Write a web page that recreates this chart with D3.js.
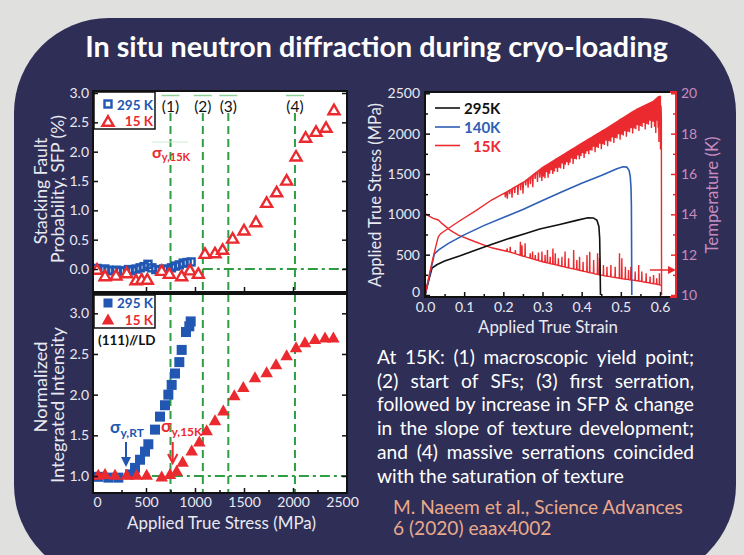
<!DOCTYPE html>
<html><head><meta charset="utf-8">
<script src="https://cdn.jsdelivr.net/npm/d3@7"></script>
<style>
body{margin:0;background:#e0e1df;}
svg{display:block;}
text{font-family:Lato,'Open Sans',sans-serif;}
</style></head><body>
<svg id="c" width="744" height="555"></svg>
<script>
// ---------------- DATA ----------------
const stressTicks = [0,500,1000,1500,2000,2500];
const sfpTicks = [0,0.5,1,1.5,2,2.5,3];
const intTicks = [1,1.5,2,2.5,3];
const strainTicks = [0,0.1,0.2,0.3,0.4,0.5,0.6];
const tempTicks = [10,12,14,16,18,20];

// SFP (%) vs applied true stress (MPa)
const sfp295Stress = [0,40,80,120,160,200,240,280,320,360,400,440,480,520,560,600,640,680,720,760,800,840,880,920,960];
const sfp295 = [0.01,-0.01,0.0,-0.02,-0.03,-0.02,-0.04,-0.03,-0.01,-0.03,0.0,0.02,0.04,0.08,0.02,-0.01,-0.02,0.0,-0.01,0.02,0.05,0.07,0.1,0.11,0.12];
const sfp15Stress = [0,82,194,303,398,456,513,660,738,864,949,1034,1102,1204,1282,1384,1500,1622,1731,1833,1935,2031,2129,2235,2337,2418];
const sfp15 = [0.0,-0.11,-0.10,-0.06,-0.18,-0.17,-0.17,-0.02,-0.07,-0.11,-0.01,-0.07,0.27,0.28,0.34,0.53,0.67,0.81,1.14,1.32,1.52,1.93,2.25,2.35,2.42,2.72];

// Normalized integrated intensity (111)//LD
const int295Stress = [13,116,218,337,388,439,490,524,592,643,694,728,762,796,840,864,908,942,956];
const int295 = [0.99,0.98,0.98,1.02,1.10,1.20,1.30,1.39,1.57,1.73,1.87,2.0,2.12,2.26,2.4,2.55,2.77,2.84,2.9];
const int15Stress = [13,82,184,303,405,507,660,745,813,874,966,1044,1119,1204,1289,1401,1493,1612,1731,1827,1935,2031,2122,2224,2327,2412];
const int15 = [1.02,1.03,1.02,1.02,1.02,1.02,1.0,1.03,1.07,1.18,1.32,1.43,1.57,1.69,1.81,2.0,2.1,2.22,2.28,2.38,2.49,2.59,2.65,2.69,2.71,2.71];

const eventStress = [750,1080,1340,2020];
const eventLabels = ['(1)','(2)','(3)','(4)'];

// Stress-strain curves [strain, MPa]
const curve295 = [[0,0],[0.01,190],[0.018,335],[0.03,375],[0.05,420],[0.088,483],[0.13,558],[0.173,632],[0.216,702],[0.259,765],[0.293,818],[0.344,875],[0.387,925],[0.416,958],[0.43,955],[0.439,925],[0.444,850],[0.446,700],[0.447,400],[0.448,0]];
const curve140 = [[0,0],[0.012,250],[0.024,510],[0.035,560],[0.06,640],[0.1,745],[0.15,860],[0.2,960],[0.25,1060],[0.293,1156],[0.35,1280],[0.4,1385],[0.45,1480],[0.49,1565],[0.505,1590],[0.515,1585],[0.521,1545],[0.524,1470],[0.526,1330],[0.527,1100],[0.528,0]];
const curve15 = [[0,0],[0.01,230],[0.02,450],[0.03,650],[0.034,722],[0.04,760],[0.047,784],[0.085,908],[0.13,1045],[0.17,1177],[0.213,1290],[0.255,1410],[0.3,1580],[0.35,1730],[0.4,1880],[0.4635,2066],[0.5,2180],[0.54,2300],[0.583,2400],[0.596,2457],[0.601,2460],[0.603,2300]];
const fracture15 = [[0.6035,2200],[0.604,0]];
// serration drops [strain, drop MPa]
const drops15 = [[0.204,60],[0.209,90],[0.215,50],[0.221,110],[0.228,70],[0.236,120],[0.243,80],[0.249,140],[0.256,60],[0.262,110],[0.268,90],[0.274,150],[0.28,70],[0.286,130],[0.292,100],[0.297,160],
[0.301,120],[0.305,150],[0.309,90],[0.313,170],[0.317,130],[0.321,100],[0.325,160],[0.329,140],[0.333,110],[0.337,170],[0.341,130],[0.345,150],[0.349,100],[0.353,180],[0.357,140],[0.361,120],[0.365,170],[0.369,150],[0.373,110],[0.377,190],[0.381,140],[0.385,160],[0.389,120],[0.393,180],[0.397,150],[0.401,130],[0.405,200],[0.409,160],[0.413,140],[0.417,190],[0.421,150],[0.425,170],[0.429,130],[0.433,210],[0.437,160],[0.441,180],[0.445,140],[0.449,220],[0.453,170],[0.457,190],[0.461,150],[0.465,230],[0.469,180],[0.473,200],[0.477,160],[0.481,240],[0.485,190],[0.489,210],[0.493,170],[0.497,250],[0.501,200],[0.505,220],[0.509,180],[0.513,260],[0.517,210],[0.521,230],[0.525,190],[0.529,270],[0.533,220],[0.537,240],[0.541,200],[0.545,280],[0.549,230],[0.553,250],[0.557,210],[0.561,300],[0.565,240],[0.569,260],[0.573,220],[0.577,320],[0.581,250],[0.585,330],[0.588,420],[0.591,280],[0.594,380],[0.596,560],[0.598,300],[0.600,640]];
// Temperature baseline [strain, K]
const temp15 = [[0,14.05],[0.013,13.88],[0.021,13.8],[0.034,13.72],[0.043,13.55],[0.064,13.22],[0.085,12.97],[0.128,12.64],[0.17,12.34],[0.213,12.15],[0.255,11.9],[0.3,11.65],[0.35,11.42],[0.4,11.2],[0.445,11.0],[0.5,10.82],[0.55,10.68],[0.6,10.5],[0.603,10.48]];
// temperature spikes [strain, peak K]
const tempSpikes = [[0.209,12.31],[0.217,12.39],[0.23,12.23],[0.243,12.64],[0.247,12.47],[0.255,12.56],[0.268,12.07],[0.274,12.15],[0.281,11.98],[0.289,12.1],[0.298,12.15],[0.306,11.98],[0.312,12.23],[0.319,11.9],[0.326,12.31],[0.332,12.07],[0.34,11.82],[0.349,11.9],[0.357,12.15],[0.366,11.82],[0.379,12.23],[0.387,11.74],[0.394,11.9],[0.403,11.65],[0.413,11.98],[0.42,12.15],[0.43,11.74],[0.44,12.07],[0.445,11.82],[0.455,11.49],[0.464,11.4],[0.474,11.49],[0.485,11.4],[0.496,12.07],[0.502,11.82],[0.511,11.4],[0.519,11.24],[0.525,11.4],[0.536,11.16],[0.545,11.49],[0.553,11.16],[0.564,11.08],[0.574,10.91],[0.583,10.99],[0.591,10.83],[0.598,11.08]];

const paraLines = ['At 15K: (1) macroscopic yield point;','(2) start of SFs; (3) first serration,','followed by increase in SFP & change','in the slope of texture development;','and (4) massive serrations coincided','with the saturation of texture'];
const citeLines = ['M. Naeem et al., Science Advances','6 (2020) eaax4002'];

// ---------------- STYLE ----------------
const NAVY='#2e2e56', LIGHT='#e9e9f1', BLUE='#2157b2', RED='#eb2a2f', GREEN='#2f9d43', PINK='#c98bbf', PEACH='#eaa98b', INK='#111';
const svg=d3.select('#c');
function fit(t,w){const l=t.node().getComputedTextLength();const fs=parseFloat(t.attr('font-size'));t.attr('font-size',fs*w/l);return fs*w/l;}
function tri(w,h){return `M0,${-h/2}L${w/2},${h/2}L${-w/2},${h/2}Z`;}

svg.append('rect').attr('width',744).attr('height',555).attr('fill','#e0e1df');
svg.append('rect').attr('x',14).attr('y',18).attr('width',722).attr('height',562).attr('rx',95).attr('fill',NAVY);

const title=svg.append('text').attr('x',376.5).attr('y',57).attr('text-anchor','middle').attr('font-size',26).attr('font-weight',700).attr('fill','#fff').text('In situ neutron diffraction during cryo-loading');
fit(title,583);

// ---------------- LEFT PANELS ----------------
const LX0=93,LX1=347,T0=91,T1=292,B0=294,B1=493;
const xL=d3.scaleLinear([0,2500],[97,342]);
const yT=d3.scaleLinear([0,3],[269,93]);
const yB=d3.scaleLinear([1,3],[476,313.3]);
const defs=svg.append('defs');
function clip(id,x,y,w,h){defs.append('clipPath').attr('id',id).append('rect').attr('x',x).attr('y',y).attr('width',w).attr('height',h);}
clip('cT',LX0,T0,LX1-LX0,T1-T0);clip('cB',LX0,B0,LX1-LX0,B1-B0);

svg.append('rect').attr('x',LX0).attr('y',T0).attr('width',LX1-LX0).attr('height',T1-T0).attr('fill','#fff');
svg.append('rect').attr('x',LX0).attr('y',B0).attr('width',LX1-LX0).attr('height',B1-B0).attr('fill','#fff');

function styleAxis(g,col,tcol,fs){g.select('.domain').remove();g.selectAll('.tick line').attr('stroke',col).attr('stroke-width',1.5);g.selectAll('.tick text').attr('fill',tcol).attr('font-size',fs).attr('font-family','Lato');}

// top panel green lines
const gT=svg.append('g').attr('clip-path','url(#cT)');
gT.selectAll('line.ev').data(eventStress).join('line').attr('x1',d=>xL(d)).attr('x2',d=>xL(d)).attr('y1',113).attr('y2',T1).attr('stroke',GREEN).attr('stroke-width',2).attr('stroke-dasharray','8,5');
gT.append('line').attr('x1',xL(eventStress[1])).attr('x2',LX1).attr('y1',yT(0)).attr('y2',yT(0)).attr('stroke',GREEN).attr('stroke-width',1.8).attr('stroke-dasharray','10,4,3,4');
gT.selectAll('line.ov').data(eventStress).join('line').attr('x1',d=>xL(d)-9).attr('x2',d=>xL(d)+9).attr('y1',95.5).attr('y2',95.5).attr('stroke','#8fd39a').attr('stroke-width',1.5);
gT.append('line').attr('x1',152).attr('x2',188).attr('y1',142).attr('y2',142).attr('stroke','#cdeed3').attr('stroke-width',1);
gT.selectAll('text.ev').data(eventLabels).join('text').attr('x',(d,i)=>xL(eventStress[i])).attr('y',106).attr('text-anchor','middle').attr('dominant-baseline','central').attr('font-size',15.5).attr('fill',INK).text(d=>d);
// markers
gT.selectAll('rect.m').data(sfp295).join('rect').attr('x',(d,i)=>xL(sfp295Stress[i])-3.5).attr('y',d=>yT(d)-3.5).attr('width',7).attr('height',7).attr('fill','none').attr('stroke',BLUE).attr('stroke-width',2.4);
gT.selectAll('path.m').data(sfp15).join('path').attr('d',tri(11,9.5)).attr('transform',(d,i)=>`translate(${xL(sfp15Stress[i])},${yT(d)})`).attr('fill','#fff').attr('stroke',RED).attr('stroke-width',2.4).attr('stroke-linejoin','miter');
// sigma label
const sg1=svg.append('text').attr('x',152).attr('y',158).attr('fill',RED).attr('font-weight',700).attr('font-size',16);
sg1.append('tspan').text('σ');sg1.append('tspan').attr('font-size',11).attr('dy',3).text('y,15K');
// legend top
svg.append('rect').attr('x',LX0+1).attr('y',T0+1).attr('width',61).attr('height',37).attr('fill','#fff').attr('stroke',INK).attr('stroke-width',1.5);
svg.append('rect').attr('x',104.5).attr('y',100.5).attr('width',7).attr('height',7).attr('fill','none').attr('stroke',BLUE).attr('stroke-width',2.4);
svg.append('path').attr('d',tri(11,9.5)).attr('transform','translate(108,121)').attr('fill','#fff').attr('stroke',RED).attr('stroke-width',2.4);
svg.append('text').attr('x',153).attr('y',104.5).attr('text-anchor','end').attr('dominant-baseline','central').attr('font-size',13.5).attr('font-weight',700).attr('fill',BLUE).text('295 K');
svg.append('text').attr('x',153).attr('y',121).attr('text-anchor','end').attr('dominant-baseline','central').attr('font-size',13.5).attr('font-weight',700).attr('fill',RED).text('15 K');

// bottom panel
const gB=svg.append('g').attr('clip-path','url(#cB)');
gB.selectAll('line.ev').data(eventStress).join('line').attr('x1',d=>xL(d)).attr('x2',d=>xL(d)).attr('y1',B0).attr('y2',B1).attr('stroke',GREEN).attr('stroke-width',2).attr('stroke-dasharray','8,5');
gB.append('line').attr('x1',xL(560)).attr('x2',LX1).attr('y1',yB(1)).attr('y2',yB(1)).attr('stroke',GREEN).attr('stroke-width',1.8).attr('stroke-dasharray','10,4,3,4');
gB.selectAll('rect.m').data(int295).join('rect').attr('x',(d,i)=>xL(int295Stress[i])-5).attr('y',d=>yB(d)-5).attr('width',10).attr('height',10).attr('fill',BLUE);
gB.selectAll('path.m').data(int15).join('path').attr('d',tri(12.5,11)).attr('transform',(d,i)=>`translate(${xL(int15Stress[i])},${yB(d)})`).attr('fill',RED);
// legend bottom
svg.append('rect').attr('x',LX0+1).attr('y',B0+1).attr('width',61).attr('height',33).attr('fill','#fff').attr('stroke',INK).attr('stroke-width',1.5);
svg.append('rect').attr('x',103.5).attr('y',298.5).attr('width',9).attr('height',9).attr('fill',BLUE);
svg.append('path').attr('d',tri(12.5,11)).attr('transform','translate(108,319)').attr('fill',RED);
svg.append('text').attr('x',153).attr('y',303).attr('text-anchor','end').attr('dominant-baseline','central').attr('font-size',13.5).attr('font-weight',700).attr('fill',BLUE).text('295 K');
svg.append('text').attr('x',153).attr('y',319.5).attr('text-anchor','end').attr('dominant-baseline','central').attr('font-size',13.5).attr('font-weight',700).attr('fill',RED).text('15 K');
svg.append('text').attr('x',98).attr('y',340).attr('dominant-baseline','central').attr('font-size',13.5).attr('font-weight',700).attr('fill',INK).text('(111)//LD');
// annotations
const sg2=svg.append('text').attr('x',110).attr('y',433).attr('fill',BLUE).attr('font-weight',700).attr('font-size',17);
sg2.append('tspan').text('σ');sg2.append('tspan').attr('font-size',12).attr('dy',4).text('y,RT');
const sg3=svg.append('text').attr('x',161).attr('y',432).attr('fill',RED).attr('font-weight',700).attr('font-size',17);
sg3.append('tspan').text('σ');sg3.append('tspan').attr('font-size',12).attr('dy',4).text('y,15K');
svg.append('line').attr('x1',126).attr('x2',126).attr('y1',442).attr('y2',460).attr('stroke',BLUE).attr('stroke-width',2);
svg.append('path').attr('d','M121,457L131,457L126,467Z').attr('fill',BLUE);
svg.append('line').attr('x1',172.7).attr('x2',172.7).attr('y1',442).attr('y2',462).attr('stroke',RED).attr('stroke-width',2);
svg.append('path').attr('d','M168,454L172.7,463L177.4,454').attr('fill','none').attr('stroke',RED).attr('stroke-width',2);

// frames
[[T0,T1],[B0,B1]].forEach(([a,b])=>svg.append('rect').attr('x',LX0).attr('y',a).attr('width',LX1-LX0).attr('height',b-a).attr('fill','none').attr('stroke',INK).attr('stroke-width',2));

// axes left panels
const fmt1=d3.format('.1f');
let g;
g=svg.append('g').attr('transform',`translate(${LX0},0)`).call(d3.axisLeft(yT).tickValues(sfpTicks).tickFormat(fmt1).tickSizeInner(-5).tickSizeOuter(0).tickPadding(4));styleAxis(g,INK,LIGHT,14);
g=svg.append('g').attr('transform',`translate(${LX1},0)`).call(d3.axisRight(yT).tickValues(sfpTicks).tickFormat('').tickSizeInner(-5).tickSizeOuter(0));styleAxis(g,INK,LIGHT,14);
g=svg.append('g').attr('transform',`translate(0,${T1})`).call(d3.axisBottom(xL).tickValues(stressTicks.slice(1,5)).tickFormat('').tickSizeInner(-5).tickSizeOuter(0));styleAxis(g,INK,LIGHT,14);
g=svg.append('g').attr('transform',`translate(${LX0},0)`).call(d3.axisLeft(yB).tickValues(intTicks).tickFormat(fmt1).tickSizeInner(-5).tickSizeOuter(0).tickPadding(4));styleAxis(g,INK,LIGHT,14);
g=svg.append('g').attr('transform',`translate(${LX1},0)`).call(d3.axisRight(yB).tickValues(intTicks).tickFormat('').tickSizeInner(-5).tickSizeOuter(0));styleAxis(g,INK,LIGHT,14);
g=svg.append('g').attr('transform',`translate(0,${B1})`).call(d3.axisBottom(xL).tickValues(stressTicks).tickFormat(d3.format('d')).tickSizeInner(-5).tickSizeOuter(0).tickPadding(4));styleAxis(g,INK,LIGHT,14);
g.selectAll('.tick line').filter(d=>d===0||d===2500).remove();
g=svg.append('g').attr('transform',`translate(0,${B1})`).call(d3.axisBottom(xL).tickValues([250,750,1250,1750,2250]).tickFormat('').tickSizeInner(-3).tickSizeOuter(0));styleAxis(g,INK,LIGHT,14);

// axis titles left
let t;
t=svg.append('text').attr('x',221.5).attr('y',529).attr('text-anchor','middle').attr('font-size',16).attr('fill',LIGHT).text('Applied True Stress (MPa)');fit(t,189);
t=svg.append('text').attr('transform','translate(57,189) rotate(-90)').attr('text-anchor','middle').attr('dominant-baseline','central').attr('font-size',16).attr('fill',LIGHT).text('Probability, SFP (%)');
let yfs=fit(t,148);
svg.append('text').attr('transform','translate(40,191) rotate(-90)').attr('text-anchor','middle').attr('dominant-baseline','central').attr('font-size',yfs).attr('fill',LIGHT).text('Stacking Fault');
t=svg.append('text').attr('transform','translate(57,405) rotate(-90)').attr('text-anchor','middle').attr('dominant-baseline','central').attr('font-size',16).attr('fill',LIGHT).text('Integrated Intensity');
yfs=fit(t,156);
svg.append('text').attr('transform','translate(40,387) rotate(-90)').attr('text-anchor','middle').attr('dominant-baseline','central').attr('font-size',yfs).attr('fill',LIGHT).text('Normalized');

// ---------------- RIGHT PANEL ----------------
const RX0=425,RX1=676,R0=92,R1=297;
const xR=d3.scaleLinear([0,0.6],[425,660]);
const yR=d3.scaleLinear([0,2500],[295,93.3]);
const yK=d3.scaleLinear([10,20],[295,93.3]);
clip('cR',RX0,R0,RX1-RX0,R1-R0);
svg.append('rect').attr('x',RX0).attr('y',R0).attr('width',RX1-RX0).attr('height',R1-R0).attr('fill','#fff');
const gR=svg.append('g').attr('clip-path','url(#cR)');
const lineS=d3.line().x(d=>xR(d[0])).y(d=>yR(d[1]));
const lineK=d3.line().x(d=>xR(d[0])).y(d=>yK(d[1]));
// temperature with spikes
const baseK=d3.scaleLinear(temp15.map(d=>d[0]),temp15.map(d=>d[1]));
let kpts=temp15.map(d=>d.slice());
tempSpikes.forEach(([s,p])=>{kpts.push([s,baseK(s)],[s+0.0006,p],[s+0.0012,baseK(s+0.0012)]);});
kpts.sort((a,b)=>a[0]-b[0]);
gR.append('path').attr('d',lineK(kpts)).attr('fill','none').attr('stroke',RED).attr('stroke-width',1.4);
// stress curves
gR.append('path').attr('d',lineS(curve295)).attr('fill','none').attr('stroke',INK).attr('stroke-width',1.6);
gR.append('path').attr('d',lineS(curve140)).attr('fill','none').attr('stroke','#2d5fb5').attr('stroke-width',1.6);
const env15=d3.scaleLinear(curve15.map(d=>d[0]),curve15.map(d=>d[1]));
let spts=curve15.map(d=>d.slice());
drops15.forEach(([s,dd])=>{spts.push([s,env15(s)],[s+0.0012,env15(s+0.0012)-dd],[s+0.0024,env15(s+0.0024)]);});
spts.sort((a,b)=>a[0]-b[0]);
spts=spts.concat(fracture15);
gR.append('path').attr('d',lineS(spts)).attr('fill','none').attr('stroke',RED).attr('stroke-width',1.4);
// arrow to right axis
gR.append('line').attr('x1',650).attr('x2',670).attr('y1',270).attr('y2',270).attr('stroke',RED).attr('stroke-width',1.5);
gR.append('path').attr('d','M668,266L676,270L668,274Z').attr('fill',RED);
// legend
const legR=[['295K',INK,108,464],['140K','#2d5fb5',127,464],['15K',RED,145.5,473]];
legR.forEach(([lab,col,y,x])=>{
 svg.append('line').attr('x1',435).attr('x2',460).attr('y1',y).attr('y2',y).attr('stroke',col).attr('stroke-width',1.6);
 svg.append('text').attr('x',x).attr('y',y).attr('dominant-baseline','central').attr('font-size',15).attr('font-weight',700).attr('fill',col).text(lab);
});
// frame
svg.append('path').attr('d',`M670,${R0}H${RX0}V${R1}H670`).attr('fill','none').attr('stroke',INK).attr('stroke-width',2);
svg.append('path').attr('d',`M670,${R0}H${RX1}V${R1}H670`).attr('fill','none').attr('stroke',RED).attr('stroke-width',2);
// axes right panel
g=svg.append('g').attr('transform',`translate(${RX0},0)`).call(d3.axisLeft(yR).tickValues(stressTicks).tickFormat(d3.format('d')).tickSizeInner(-5).tickSizeOuter(0).tickPadding(5));styleAxis(g,INK,LIGHT,14);
g.selectAll('.tick text').filter(d=>d===0).attr('y',-3);
g=svg.append('g').attr('transform',`translate(${RX0},0)`).call(d3.axisLeft(yR).tickValues([250,750,1250,1750,2250]).tickFormat('').tickSizeInner(-3).tickSizeOuter(0));styleAxis(g,INK,LIGHT,14);
g=svg.append('g').attr('transform',`translate(0,${R1})`).call(d3.axisBottom(xR).tickValues(strainTicks).tickFormat(fmt1).tickSizeInner(-5).tickSizeOuter(0).tickPadding(5));styleAxis(g,INK,LIGHT,14);
g=svg.append('g').attr('transform',`translate(0,${R1})`).call(d3.axisBottom(xR).tickValues([0.05,0.15,0.25,0.35,0.45,0.55]).tickFormat('').tickSizeInner(-3).tickSizeOuter(0));styleAxis(g,INK,LIGHT,14);
g=svg.append('g').attr('transform',`translate(${RX1},0)`).call(d3.axisRight(yK).tickValues(tempTicks).tickFormat(d3.format('d')).tickSizeInner(-5).tickSizeOuter(0).tickPadding(5));styleAxis(g,RED,PINK,14);
g=svg.append('g').attr('transform',`translate(${RX1},0)`).call(d3.axisRight(yK).tickValues([11,13,15,17,19]).tickFormat('').tickSizeInner(-3).tickSizeOuter(0));styleAxis(g,RED,PINK,14);
t=svg.append('text').attr('x',548).attr('y',333).attr('text-anchor','middle').attr('font-size',16).attr('fill',LIGHT).text('Applied True Strain');fit(t,140);
t=svg.append('text').attr('transform','translate(375,195) rotate(-90)').attr('text-anchor','middle').attr('dominant-baseline','central').attr('font-size',16).attr('fill',LIGHT).text('Applied True Stress (MPa)');fit(t,184);
t=svg.append('text').attr('transform','translate(711,195) rotate(-90)').attr('text-anchor','middle').attr('dominant-baseline','central').attr('font-size',16).attr('fill',PINK).text('Temperature (K)');fit(t,117);

// ---------------- PARAGRAPH ----------------
const PX0=377,PX1=694,PY0=364,PDY=23.7;
const probe=svg.append('text').attr('font-size',16).text(paraLines[paraLines.length-1]);
const pfs=fit(probe,247);probe.remove();
paraLines.forEach((line,i)=>{
 const y=PY0+i*PDY;
 const words=line.split(' ');
 if(i===paraLines.length-1){svg.append('text').attr('x',PX0).attr('y',y).attr('font-size',pfs).attr('fill','#fff').text(line);return;}
 const nodes=words.map(w=>svg.append('text').attr('y',y).attr('font-size',pfs).attr('fill','#fff').text(w));
 const ws=nodes.map(n=>n.node().getComputedTextLength());
 const gap=(PX1-PX0-d3.sum(ws))/(words.length-1);
 let x=PX0;nodes.forEach((n,j)=>{n.attr('x',x);x+=ws[j]+gap;});
});
const c1=svg.append('text').attr('x',393).attr('y',513.5).attr('font-size',18).attr('fill',PEACH).text(citeLines[0]);
const cfs=fit(c1,290);
svg.append('text').attr('x',393).attr('y',535).attr('font-size',cfs).attr('fill',PEACH).text(citeLines[1]);
</script>
</body></html>
